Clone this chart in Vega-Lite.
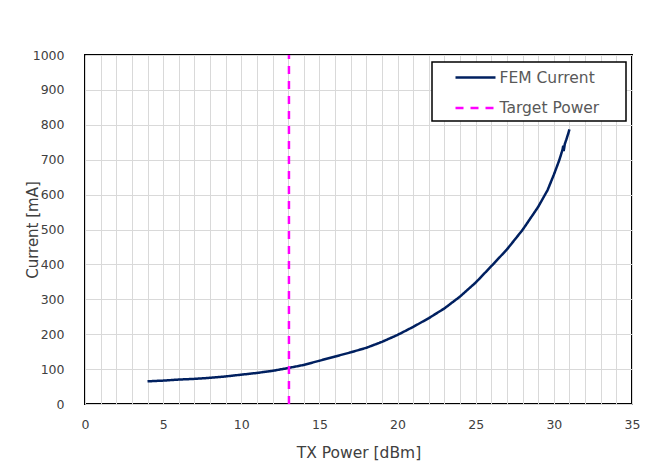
{
  "$schema": "https://vega.github.io/schema/vega-lite/v6.json",
  "autosize": {"type": "none"},
  "padding": {"left": 85, "top": 55, "right": 27, "bottom": 62},
  "width": 547,
  "height": 349,
  "background": "white",
  "config": {
    "font": "DejaVu Sans",
    "view": {"stroke": "#000000", "strokeWidth": 2}
  },
  "data": {
    "values": [
      {"series": "FEM Current", "x": 4, "y": 65},
      {"series": "FEM Current", "x": 5, "y": 67},
      {"series": "FEM Current", "x": 6, "y": 70},
      {"series": "FEM Current", "x": 7, "y": 72},
      {"series": "FEM Current", "x": 8, "y": 75},
      {"series": "FEM Current", "x": 9, "y": 79},
      {"series": "FEM Current", "x": 10, "y": 84},
      {"series": "FEM Current", "x": 11, "y": 89},
      {"series": "FEM Current", "x": 12, "y": 95},
      {"series": "FEM Current", "x": 13, "y": 103},
      {"series": "FEM Current", "x": 14, "y": 112},
      {"series": "FEM Current", "x": 15, "y": 124},
      {"series": "FEM Current", "x": 16, "y": 136},
      {"series": "FEM Current", "x": 17, "y": 148},
      {"series": "FEM Current", "x": 18, "y": 161},
      {"series": "FEM Current", "x": 19, "y": 178},
      {"series": "FEM Current", "x": 20, "y": 198},
      {"series": "FEM Current", "x": 21, "y": 221},
      {"series": "FEM Current", "x": 22, "y": 246},
      {"series": "FEM Current", "x": 23, "y": 274},
      {"series": "FEM Current", "x": 24, "y": 308},
      {"series": "FEM Current", "x": 25, "y": 348},
      {"series": "FEM Current", "x": 26, "y": 395},
      {"series": "FEM Current", "x": 27, "y": 443},
      {"series": "FEM Current", "x": 28, "y": 499},
      {"series": "FEM Current", "x": 29, "y": 565},
      {"series": "FEM Current", "x": 29.6, "y": 613},
      {"series": "FEM Current", "x": 30, "y": 657},
      {"series": "FEM Current", "x": 30.35, "y": 699},
      {"series": "FEM Current", "x": 30.55, "y": 728},
      {"series": "FEM Current", "x": 30.6, "y": 740},
      {"series": "FEM Current", "x": 30.63, "y": 725},
      {"series": "FEM Current", "x": 30.7, "y": 745},
      {"series": "FEM Current", "x": 30.8, "y": 758},
      {"series": "FEM Current", "x": 30.9, "y": 772},
      {"series": "FEM Current", "x": 31, "y": 787},
      {"series": "Target Power", "x": 13.05, "y": 0},
      {"series": "Target Power", "x": 13.05, "y": 1000}
    ]
  },
  "mark": {"type": "line", "strokeWidth": 2.5, "clip": true},
  "encoding": {
    "x": {
      "field": "x",
      "type": "quantitative",
      "scale": {"domain": [0, 35], "nice": false, "zero": false},
      "axis": {
        "title": "TX Power [dBm]",
        "values": [0,1,2,3,4,5,6,7,8,9,10,11,12,13,14,15,16,17,18,19,20,21,22,23,24,25,26,27,28,29,30,31,32,33,34,35],
        "labelExpr": "datum.value % 5 === 0 ? datum.label : ''",
        "grid": true,
        "gridColor": "#d9d9d9",
        "gridWidth": 1,
        "domain": false,
        "ticks": false,
        "labelPadding": 14,
        "labelFontSize": 12.5,
        "labelColor": "#404040",
        "labelFlush": false,
        "labelOverlap": false,
        "titleFontSize": 15.5,
        "titleFontWeight": "normal",
        "titleColor": "#404040",
        "titlePadding": 15
      }
    },
    "y": {
      "field": "y",
      "type": "quantitative",
      "scale": {"domain": [0, 1000], "nice": false},
      "axis": {
        "title": "Current [mA]",
        "values": [0,100,200,300,400,500,600,700,800,900,1000],
        "format": "d",
        "grid": true,
        "gridColor": "#d9d9d9",
        "gridWidth": 1,
        "domain": false,
        "ticks": false,
        "labelPadding": 21,
        "labelFontSize": 12.5,
        "labelColor": "#404040",
        "labelFlush": false,
        "titleFontSize": 15,
        "titleFontWeight": "normal",
        "titleColor": "#404040",
        "titleX": -53,
        "titleY": 174.5,
        "titleAngle": 270,
        "titleAlign": "center",
        "titleBaseline": "middle"
      }
    },
    "color": {
      "field": "series",
      "type": "nominal",
      "scale": {"domain": ["FEM Current", "Target Power"], "range": ["#002060", "#FF00FF"]},
      "legend": {
        "title": null,
        "orient": "none",
        "legendX": 347,
        "legendY": 7,
        "fillColor": "white",
        "strokeColor": "#000000",
        "padding": 4,
        "symbolType": "M-2,0H2",
        "symbolSize": 400,
        "symbolStrokeWidth": 2.5,
        "symbolOffset": 28,
        "labelOffset": 12.5,
        "labelFontSize": 15.5,
        "labelColor": "#595959",
        "labelExpr": "datum.label + '\u2800\u2800'",
        "rowPadding": 10.5,
        "encode": {"legend": {"update": {"strokeWidth": {"value": 1.5}}}}
      }
    },
    "strokeDash": {
      "field": "series",
      "type": "nominal",
      "scale": {"domain": ["FEM Current", "Target Power"], "range": [[1, 0], [8, 7]]},
      "legend": {
        "title": null,
        "orient": "none",
        "legendX": 347,
        "legendY": 7,
        "fillColor": "white",
        "strokeColor": "#000000",
        "padding": 4,
        "symbolType": "M-2,0H2",
        "symbolSize": 400,
        "symbolStrokeWidth": 2.5,
        "symbolOffset": 28,
        "labelOffset": 12.5,
        "labelFontSize": 15.5,
        "labelColor": "#595959",
        "labelExpr": "datum.label + '\u2800\u2800'",
        "rowPadding": 10.5,
        "encode": {"legend": {"update": {"strokeWidth": {"value": 1.5}}}}
      }
    }
  }
}
